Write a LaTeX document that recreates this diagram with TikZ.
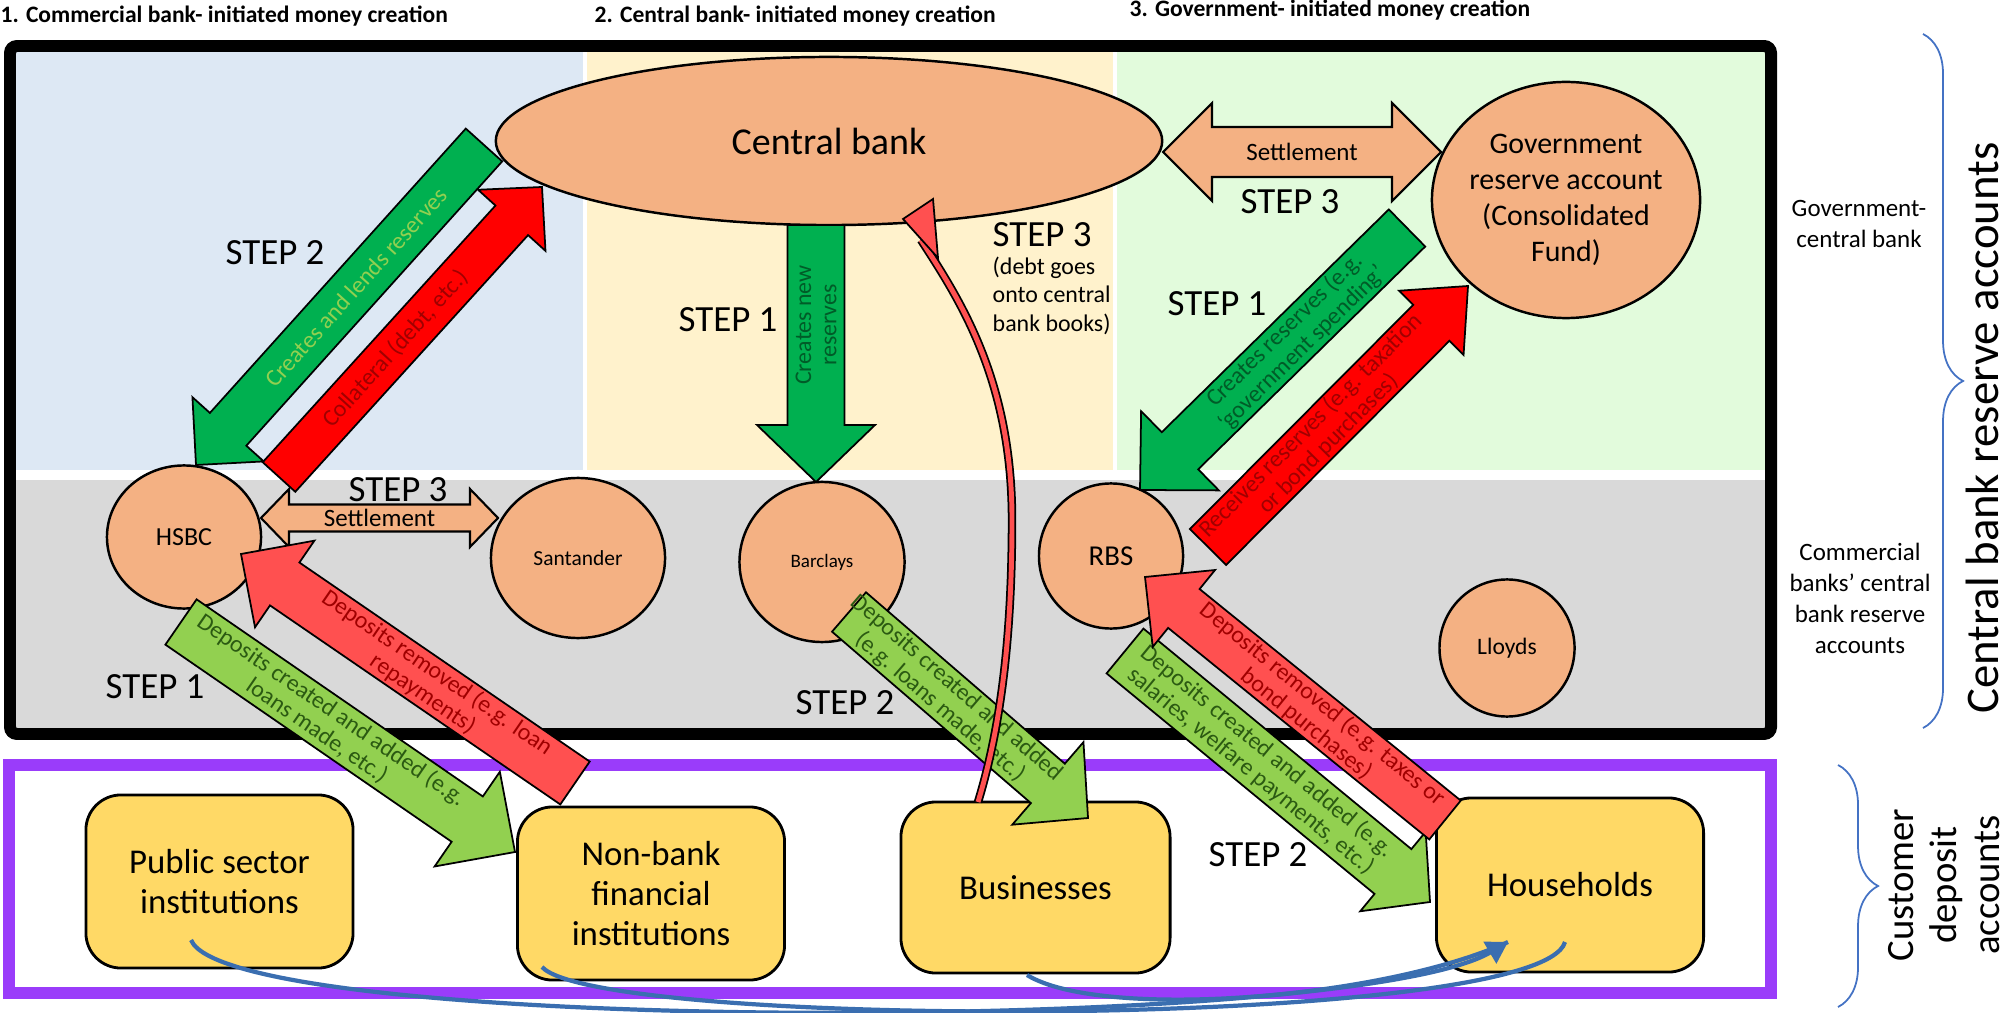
\documentclass[tikz,border=0pt]{standalone}
\usepackage{fontspec}
\setmainfont{Carlito}
\usetikzlibrary{shapes.geometric, arrows.meta, calc, decorations.pathreplacing}
\definecolor{cbfill}{HTML}{F4B183}
\definecolor{boxfill}{HTML}{FFD966}
\definecolor{blupanel}{HTML}{DDE8F4}
\definecolor{begpanel}{HTML}{FFF2CC}
\definecolor{grnpanel}{HTML}{E2FBDC}
\definecolor{grypanel}{HTML}{D9D9D9}
\definecolor{purframe}{HTML}{9A3CFA}
\definecolor{dkgreen}{HTML}{00B050}
\definecolor{ltgreen}{HTML}{92D050}
\definecolor{fullred}{HTML}{FF0000}
\definecolor{ltred}{HTML}{FF5050}
\definecolor{bracecol}{HTML}{4472C4}
\definecolor{flowcol}{HTML}{3A6EB0}
\definecolor{txtdkgreen}{HTML}{005C28}
\definecolor{txtltgreen}{HTML}{92D050}
\definecolor{txtdkred}{HTML}{A00000}
\definecolor{txtolive}{HTML}{2B5A12}
\tikzset{
  bank/.style={ellipse, draw=black, line width=0.7pt, fill=cbfill, inner sep=0pt, align=center},
  acct/.style={rectangle, rounded corners=0.35cm, draw=black, line width=0.8pt, fill=boxfill,
    minimum width=2.67cm, minimum height=1.73cm, align=center, font=\fontsize{9.9}{11.3}\selectfont},
  steplab/.style={font=\fontsize{10.5}{12}\selectfont, inner sep=0pt},
  hdr/.style={font=\fontsize{6.7}{8}\selectfont\bfseries, inner sep=0pt, anchor=west},
  sidelab/.style={font=\fontsize{7.1}{8.8}\selectfont, align=center, inner sep=0pt},
  biglab/.style={rotate=90, align=center, inner sep=0pt},
  arrtext/.style={font=\fontsize{6.8}{7.2}\selectfont, align=center, inner sep=0pt},
  darrow/.style={fill=dkgreen, draw=black, line width=0.5pt},
  rarrow/.style={fill=fullred, draw=black, line width=0.5pt},
  lgarrow/.style={fill=ltgreen, draw=black, line width=0.5pt},
  lrarrow/.style={fill=ltred, draw=black, line width=0.5pt},
  setl/.style={fill=cbfill, draw=black, line width=0.6pt},
  setltext/.style={font=\fontsize{7.1}{8}\selectfont, inner sep=0pt},
  flow/.style={draw=flowcol, line width=1.2pt},
  acbrace/.style={draw=bracecol, line width=0.5pt, decorate, decoration={brace, amplitude=0.4cm}},
}
% block arrow: style, tail, tip, half shaft, half head, head length (px), text options, text
\newcommand{\blockarrow}[8]{%
  \coordinate (#2#3h) at ($(#3)!#6*0.01cm!(#2)$);
  \draw[#1] ($(#2)!#4*0.01cm!90:(#3)$) -- ($(#2#3h)!#4*0.01cm!90:(#3)$)
    -- ($(#2#3h)!#5*0.01cm!90:(#3)$) -- (#3)
    -- ($(#2#3h)!#5*0.01cm!-90:(#3)$) -- ($(#2#3h)!#4*0.01cm!-90:(#3)$)
    -- ($(#2)!#4*0.01cm!-90:(#3)$) -- cycle;
  \path (#2) -- (#2#3h) node[midway, arrtext, #7] {#8};
}
% double block arrow, same arguments
\newcommand{\dblarrow}[8]{%
  \coordinate (#2#3a) at ($(#2)!#6*0.01cm!(#3)$);
  \coordinate (#2#3b) at ($(#3)!#6*0.01cm!(#2)$);
  \draw[#1] (#2) -- ($(#2#3a)!#5*0.01cm!90:(#3)$) -- ($(#2#3a)!#4*0.01cm!90:(#3)$)
    -- ($(#2#3b)!#4*0.01cm!90:(#3)$) -- ($(#2#3b)!#5*0.01cm!90:(#3)$) -- (#3)
    -- ($(#2#3b)!#5*0.01cm!-90:(#3)$) -- ($(#2#3b)!#4*0.01cm!-90:(#3)$)
    -- ($(#2#3a)!#4*0.01cm!-90:(#3)$) -- ($(#2#3a)!#5*0.01cm!-90:(#3)$) -- cycle;
  \path (#2) -- (#3) node[midway, #7] {#8};
}
\begin{document}
\begin{tikzpicture}[x=0.01cm, y=-0.01cm]
  \fill[white, use as bounding box] (0,0) rectangle (2007,1013);
  % panels
  \fill[blupanel] (16,52) rectangle (583,470);
  \fill[begpanel] (587,52) rectangle (1113,470);
  \fill[grnpanel] (1117,52) rectangle (1765,470);
  \fill[grypanel] (16,480) rectangle (1765,728);
  \draw[black, line width=3.4pt, rounded corners=2pt] (10,46) rectangle (1771,734);
  \draw[purframe, line width=3.4pt] (9,765) rectangle (1771,993);

  % headings
  \node[hdr] (h1) at (0,16) {1. Commercial bank- initiated money creation};
  \node[hdr] (h2) at (594,16) {2. Central bank- initiated money creation};
  \node[hdr] (h3) at (1129,10) {3. Government- initiated money creation};

  % reserve accounts
  \node[bank, minimum width=6.66cm, minimum height=1.68cm, font=\fontsize{10.8}{12}\selectfont] (cb) at (829,141) {Central bank};
  \node[bank, minimum width=2.68cm, minimum height=2.36cm, inner xsep=-1pt, font=\fontsize{8.5}{10.2}\selectfont] (gov) at (1566,200)
    {Government\\reserve account\\(Consolidated\\Fund)};
  \node[bank, minimum width=1.54cm, minimum height=1.43cm, font=\fontsize{7.4}{8}\selectfont] (hsbc) at (184,537) {HSBC};
  \node[bank, minimum width=1.74cm, minimum height=1.60cm, font=\fontsize{6.1}{7}\selectfont] (sant) at (578,558) {Santander};
  \node[bank, minimum width=1.65cm, minimum height=1.60cm, font=\fontsize{5.4}{6}\selectfont] (barc) at (822,562) {Barclays};
  \node[bank, minimum width=1.44cm, minimum height=1.45cm, font=\fontsize{8.2}{9}\selectfont] (rbs) at (1111,556) {RBS};
  \node[bank, minimum width=1.35cm, minimum height=1.37cm, font=\fontsize{6.7}{7}\selectfont] (lloyds) at (1507,648) {Lloyds};

  % customer deposit accounts
  \node[acct] (pub) at (219.5,881.5) {Public sector\\institutions};
  \node[acct] (nbfi) at (651,893.5) {Non-bank\\financial\\institutions};
  \node[acct, minimum width=2.69cm, minimum height=1.71cm] (biz) at (1035.5,887.5) {Businesses};
  \node[acct, minimum height=1.74cm] (hh) at (1570,885) {Households};

  % arrow ends
  \coordinate (lendS) at (484,145);   \coordinate (lendE) at (196,465);
  \coordinate (collS) at (279,477);   \coordinate (collE) at (542,187);
  \coordinate (newS) at (816,225);    \coordinate (newE) at (816,482);
  \coordinate (spendS) at (1407,228); \coordinate (spendE) at (1140,490);
  \coordinate (taxS) at (1208,547);   \coordinate (taxE) at (1468,286);
  \coordinate (loanS) at (181,622);   \coordinate (loanE) at (515,852);
  \coordinate (repayS) at (575,783);  \coordinate (repayE) at (241,554);
  \coordinate (bizS) at (849,612);    \coordinate (bizE) at (1088,818);
  \coordinate (wageS) at (1125,651);  \coordinate (wageE) at (1430,902);
  \coordinate (hhtaxS) at (1445,820); \coordinate (hhtaxE) at (1145,577);
  \coordinate (setlL) at (261,518);   \coordinate (setlR) at (498,518);
  \coordinate (setgL) at (1163,152);  \coordinate (setgR) at (1441,152);

  % settlement
  \dblarrow{setl}{setlL}{setlR}{13.5}{29}{28}{setltext}{Settlement}
  \dblarrow{setl}{setgL}{setgR}{25}{49}{49}{setltext}{Settlement}

  % reserve flows
  \blockarrow{darrow}{lendS}{lendE}{24.5}{48}{48}{sloped, text=txtltgreen}{Creates and lends reserves}
  \blockarrow{rarrow}{collS}{collE}{22}{45.5}{45}{sloped, text=txtdkred}{Collateral (debt, etc.)}
  \blockarrow{darrow}{newS}{newE}{28.5}{59}{57}{rotate=90, text=txtdkgreen}{Creates new\\reserves}
  \blockarrow{darrow}{spendS}{spendE}{26}{55.5}{56}{sloped, text=txtdkgreen}{Creates reserves (e.g.\\‘government spending’}
  \blockarrow{rarrow}{taxS}{taxE}{25.5}{45.5}{52}{sloped, text=txtdkred}{Receives reserves (e.g. taxation\\or bond purchases)}

  % deposit flows
  \blockarrow{lgarrow}{loanS}{loanE}{27.5}{57.5}{58}{sloped, text=txtolive}{Deposits created and added (e.g.\\loans made, etc.)}
  \blockarrow{lrarrow}{repayS}{repayE}{26}{52.5}{53}{sloped, text=txtdkred}{Deposits removed (e.g. loan\\repayments)}
  \blockarrow{lgarrow}{bizS}{bizE}{26}{54.5}{53}{sloped, text=txtolive}{Deposits created and added\\(e.g. loans made, etc.)}
  \blockarrow{lgarrow}{wageS}{wageE}{29}{51.5}{48}{sloped, text=txtolive}{Deposits created and added (e.g.\\salaries, welfare payments, etc.)}
  \blockarrow{lrarrow}{hhtaxS}{hhtaxE}{25}{49.5}{50}{sloped, text=txtdkred}{Deposits removed (e.g. taxes or\\bond purchases)}

  % debt onto central bank books
  \coordinate (debtS) at (978,802);
  \coordinate (debtM) at (1012,520);
  \coordinate (debtE) at (921,240);
  \coordinate (debtT) at (933,199);
  \draw[draw=black, line width=0.5pt, double=ltred, double distance=1.4pt]
    (debtS) .. controls (1000,730) and (1012,640) .. (debtM)
    .. controls (1012,380) and (960,300) .. (debtE);
  \draw[lrarrow] (debtT) -- (903,219) -- (938,258) -- cycle;

  % transfers between customers
  \coordinate (pubB) at (191,940);
  \coordinate (nbfiB) at (542,967);
  \coordinate (bizB) at (1027,975);
  \coordinate (hhA) at (1508,942);
  \coordinate (hhB) at (1565,942);
  \draw[flow, -{Triangle[length=6pt, width=7pt]}] (pubB) .. controls (230,1035) and (1350,1035) .. (hhA);
  \draw[flow] (nbfiB) .. controls (600,1030) and (1540,1030) .. (hhB);
  \draw[flow] (bizB) .. controls (1100,1020) and (1380,1000) .. (hhA);

  % steps
  \node[steplab] (s2a) at (275,253) {STEP 2};
  \node[steplab] (s3a) at (398,490) {STEP 3};
  \node[steplab] (s1a) at (155,687) {STEP 1};
  \node[steplab] (s1b) at (728,320) {STEP 1};
  \node[steplab, anchor=north west] (s3b) at (992,222) {STEP 3};
  \node[anchor=north west, align=left, inner sep=0pt, font=\fontsize{6.8}{8.1}\selectfont] (debt) at (992,256)
    {(debt goes\\onto central\\bank books)};
  \node[steplab] (s2b) at (845,703) {STEP 2};
  \node[steplab] (s3c) at (1290,202) {STEP 3};
  \node[steplab] (s1c) at (1217,304) {STEP 1};
  \node[steplab] (s2c) at (1258,855) {STEP 2};

  % side labels
  \node[sidelab] (gcb) at (1859,224) {Government-\\central bank};
  \node[sidelab] (cbra) at (1860,598) {Commercial\\banks’ central\\bank reserve\\accounts};
  \draw[acbrace] (1923,34) -- (1923,728);
  \draw[acbrace] (1838,765) -- (1838,1007);
  \node[biglab, font=\fontsize{13.3}{15}\selectfont] (cbres) at (1982,428) {Central bank reserve accounts};
  \node[biglab, font=\fontsize{11}{12.2}\selectfont] (cust) at (1944,885) {Customer\\deposit\\accounts};
\end{tikzpicture}
\end{document}
